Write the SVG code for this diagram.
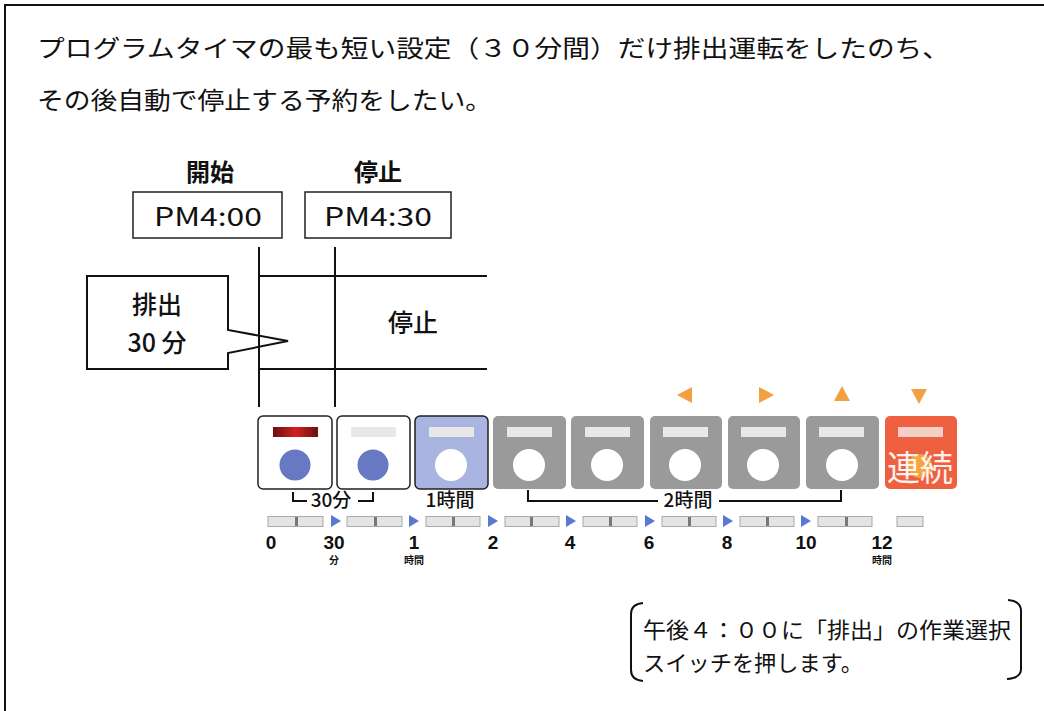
<svg xmlns="http://www.w3.org/2000/svg" width="1044" height="711" viewBox="0 0 1044 711">
<style>
.jp{font-family:"Noto Sans CJK JP","Noto Sans",sans-serif;fill:#111}
.b{font-weight:bold}
.m{font-weight:500}
.ln{stroke:#111;stroke-width:2;fill:none}
.btnw{fill:#fff;stroke:#222;stroke-width:1.5}
.btng{fill:#9a9a9a}
.lamp{fill:#e8e8e8}
.bar{fill:#e4e4e4;stroke:#aaa;stroke-width:1}
.tick{fill:#777}
.tri{fill:#5a78d2}
.org{fill:#f5a040}
.num{font-family:"Liberation Sans",Arial,sans-serif;font-size:19px;font-weight:bold;fill:#111;text-anchor:middle}
.sm{font-family:"Noto Sans CJK JP",sans-serif;font-size:10px;font-weight:bold;fill:#111;text-anchor:middle}
</style>
<defs>
<linearGradient id="red" x1="0" x2="1" y1="0" y2="0">
<stop offset="0" stop-color="#6a0f0f"/><stop offset="0.5" stop-color="#d42020"/><stop offset="1" stop-color="#6a0f0f"/>
</linearGradient>
</defs>
<rect width="1044" height="711" fill="#fff"/>
<polyline class="ln" points="5,711 5,5 1044,5"/>

<g id="title">
<text class="jp" x="37" y="57" font-size="24" textLength="913" lengthAdjust="spacingAndGlyphs">プログラムタイマの最も短い設定（３０分間）だけ排出運転をしたのち、</text>
<text class="jp" x="37" y="109" font-size="24" textLength="455" lengthAdjust="spacingAndGlyphs">その後自動で停止する予約をしたい。</text>
</g>

<g id="start">
<text class="jp b" x="210" y="181" font-size="24" text-anchor="middle">開始</text>
<rect x="133" y="192" width="149" height="46" fill="#fff" stroke="#222" stroke-width="1.5"/>
<text class="jp" x="208" y="226" font-size="25" text-anchor="middle" textLength="108" lengthAdjust="spacingAndGlyphs">PM4:00</text>
</g>
<g id="stop">
<text class="jp b" x="378" y="181" font-size="24" text-anchor="middle">停止</text>
<rect x="305" y="192" width="146" height="46" fill="#fff" stroke="#222" stroke-width="1.5"/>
<text class="jp" x="378" y="226" font-size="25" text-anchor="middle" textLength="108" lengthAdjust="spacingAndGlyphs">PM4:30</text>
</g>

<g id="timeline">
<line class="ln" x1="259" y1="247" x2="259" y2="407"/>
<line class="ln" x1="335" y1="247" x2="335" y2="407"/>
<line class="ln" x1="259" y1="276" x2="487" y2="276"/>
<line class="ln" x1="259" y1="369" x2="487" y2="369"/>
<text class="jp m" x="413" y="332" font-size="25" text-anchor="middle">停止</text>
</g>

<g id="callout">
<path d="M87,276 H228 V330 L288,341 L228,353 V369 H87 Z" fill="none" stroke="#111" stroke-width="2"/>
<text class="jp m" x="157" y="314" font-size="25" text-anchor="middle">排出</text>
<text class="jp m" x="157" y="352" font-size="25" text-anchor="middle">30 分</text>
</g>

<g id="arrows">
<polygon class="org" points="677,395 692,387 692,403"/>
<polygon class="org" points="774,395 759,387 759,403"/>
<polygon class="org" points="842,386 850,401 834,401"/>
<polygon class="org" points="919,404 911,389 927,389"/>
</g>

<g id="btn1"><rect class="btnw" x="258" y="416" width="74" height="73" rx="5"/><rect x="273" y="427" width="45" height="10" fill="url(#red)"/><circle cx="295" cy="465" r="15.5" fill="#6679c2"/></g>
<g id="btn2"><rect class="btnw" x="337" y="416" width="73" height="73" rx="5"/><rect class="lamp" x="351" y="427" width="45" height="10"/><circle cx="373" cy="465" r="15.5" fill="#6679c2"/></g>
<g id="btn3"><rect x="415" y="416" width="73" height="73" rx="5" fill="#a9b4e0" stroke="#222" stroke-width="1.5"/><rect class="lamp" x="429" y="427" width="45" height="10"/><circle cx="451" cy="465" r="16" fill="#fff"/></g>
<g id="btn4"><rect class="btng" x="493" y="416" width="73" height="73" rx="5"/><rect class="lamp" x="507" y="427" width="45" height="10"/><circle cx="529" cy="465" r="16" fill="#fff"/></g>
<g id="btn5"><rect class="btng" x="571" y="416" width="73" height="73" rx="5"/><rect class="lamp" x="585" y="427" width="45" height="10"/><circle cx="607" cy="465" r="16" fill="#fff"/></g>
<g id="btn6"><rect class="btng" x="650" y="416" width="72" height="73" rx="5"/><rect class="lamp" x="663" y="427" width="45" height="10"/><circle cx="685" cy="465" r="16" fill="#fff"/></g>
<g id="btn7"><rect class="btng" x="728" y="416" width="72" height="73" rx="5"/><rect class="lamp" x="741" y="427" width="45" height="10"/><circle cx="763" cy="465" r="16" fill="#fff"/></g>
<g id="btn8"><rect class="btng" x="806" y="416" width="73" height="73" rx="5"/><rect class="lamp" x="819" y="427" width="45" height="10"/><circle cx="842" cy="465" r="16" fill="#fff"/></g>
<g id="btn9"><rect x="885" y="416" width="72" height="73" rx="5" fill="#ef6040"/><rect x="898" y="427" width="45" height="10" fill="#f2d0c8"/><circle cx="920" cy="466" r="12" fill="#f5a540"/><text x="920" y="481" font-family="Noto Sans CJK JP,sans-serif" font-size="35" fill="#fff" text-anchor="middle" opacity="0.92" textLength="66" lengthAdjust="spacingAndGlyphs">連続</text></g>

<g id="labels">
<polyline class="ln" points="293,492 293,501 307,501" stroke-width="1.5"/>
<text class="jp m" x="331" y="507" font-size="19" text-anchor="middle">30分</text>
<polyline class="ln" points="358,501 373,501 373,492" stroke-width="1.5"/>
<text class="jp m" x="450" y="507" font-size="19" text-anchor="middle">1時間</text>
<polyline class="ln" points="528,490 528,501 658,501" stroke-width="1.5"/>
<text class="jp m" x="688" y="507" font-size="19" text-anchor="middle">2時間</text>
<polyline class="ln" points="719,501 841,501 841,490" stroke-width="1.5"/>
</g>

<g id="scale">
<rect class="bar" x="268" y="516.5" width="55" height="10"/><rect class="tick" x="295" y="517" width="3" height="9"/>
<polygon class="tri" points="331,515 341,521 331,527"/>
<rect class="bar" x="347" y="516.5" width="55" height="10"/><rect class="tick" x="374" y="517" width="3" height="9"/>
<polygon class="tri" points="409,515 419,521 409,527"/>
<rect class="bar" x="426" y="516.5" width="54" height="10"/><rect class="tick" x="452" y="517" width="3" height="9"/>
<polygon class="tri" points="488,515 498,521 488,527"/>
<rect class="bar" x="505" y="516.5" width="54" height="10"/><rect class="tick" x="530" y="517" width="3" height="9"/>
<polygon class="tri" points="566,515 576,521 566,527"/>
<rect class="bar" x="583" y="516.5" width="54" height="10"/><rect class="tick" x="609" y="517" width="3" height="9"/>
<polygon class="tri" points="645,515 655,521 645,527"/>
<rect class="bar" x="662" y="516.5" width="54" height="10"/><rect class="tick" x="688" y="517" width="3" height="9"/>
<polygon class="tri" points="723,515 733,521 723,527"/>
<rect class="bar" x="740" y="516.5" width="54" height="10"/><rect class="tick" x="766" y="517" width="3" height="9"/>
<polygon class="tri" points="801,515 811,521 801,527"/>
<rect class="bar" x="818" y="516.5" width="54" height="10"/><rect class="tick" x="845" y="517" width="3" height="9"/>
<rect class="bar" x="897" y="516.5" width="26" height="10"/>
<text class="num" x="271" y="549">0</text>
<text class="num" x="334" y="549">30</text>
<text class="sm" x="334" y="564">分</text>
<text class="num" x="414" y="549">1</text>
<text class="sm" x="414" y="564">時間</text>
<text class="num" x="493" y="549">2</text>
<text class="num" x="570" y="549">4</text>
<text class="num" x="649" y="549">6</text>
<text class="num" x="727" y="549">8</text>
<text class="num" x="806" y="549">10</text>
<text class="num" x="882" y="549">12</text>
<text class="sm" x="882" y="564">時間</text>
</g>

<g id="note">
<path d="M643,603 Q631,604 631,614 V670 Q631,680 643,681" class="ln"/>
<path d="M1008,600 Q1021,601 1021,611 V669 Q1021,678 1007,679" class="ln"/>
<text class="jp" x="643" y="638" font-size="22" textLength="368" lengthAdjust="spacingAndGlyphs">午後４：００に「排出」の作業選択</text>
<text class="jp" x="643" y="671" font-size="22" textLength="220" lengthAdjust="spacingAndGlyphs">スイッチを押します。</text>
</g>
</svg>
